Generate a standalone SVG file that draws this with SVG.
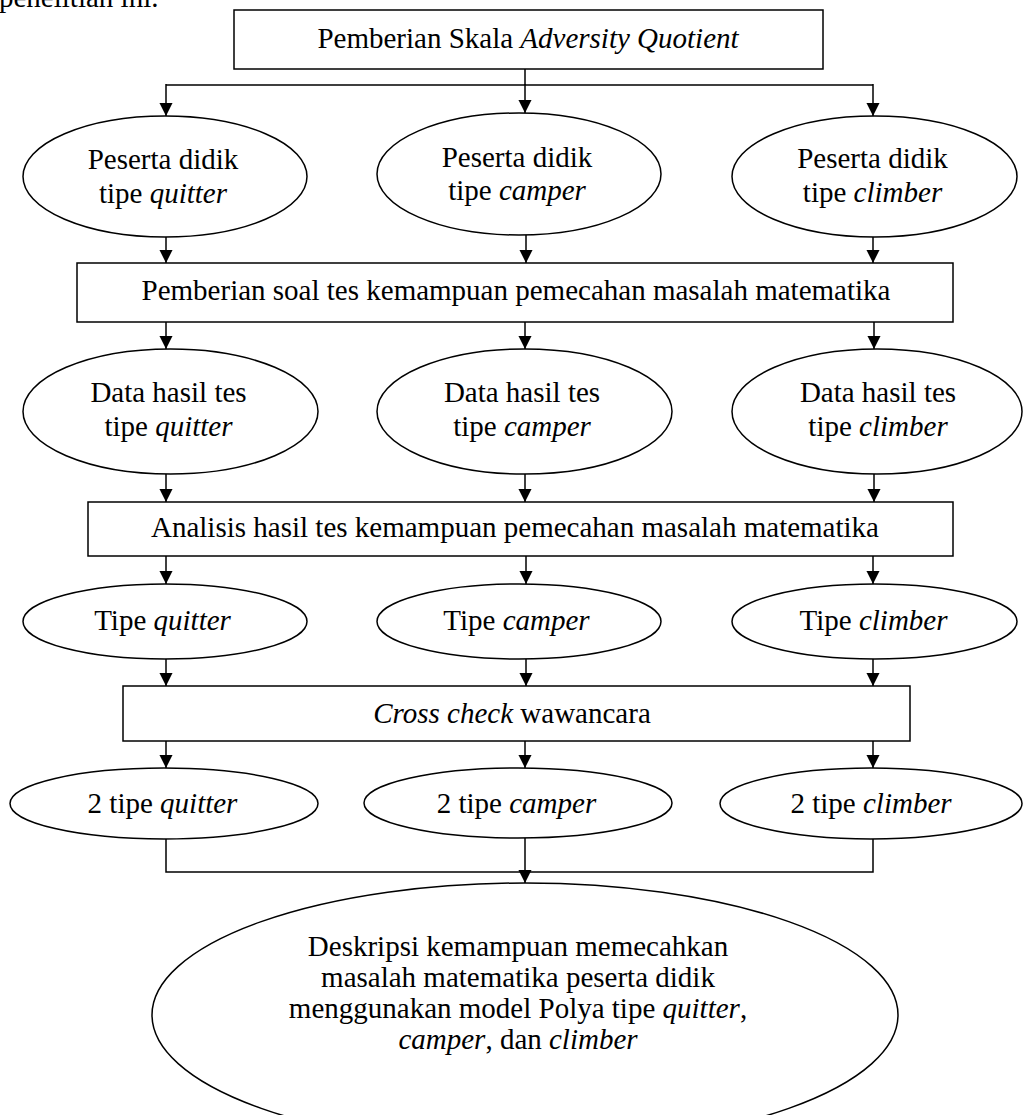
<svg xmlns="http://www.w3.org/2000/svg" width="1023" height="1115" viewBox="0 0 1023 1115">
<defs>
<style>
.n{fill:#fff;stroke:#000;stroke-width:1.5}
.t{font-family:"Liberation Serif","Times New Roman",serif;font-size:29px;fill:#000;text-anchor:middle}
.i{font-style:italic}
.c{fill:none;stroke:#000;stroke-width:1.5}
.a{marker-end:url(#ah)}
</style>
<marker id="ah" viewBox="0 0 14 15" refX="14" refY="7" markerWidth="15" markerHeight="14" markerUnits="userSpaceOnUse" orient="auto">
<path d="M0,0 L14,7 L0,14 z" fill="#000"/>
</marker>
</defs>
<rect width="1023" height="1115" fill="#fff"/>
<text class="t" x="-1" y="7" style="text-anchor:start">penelitian ini.</text>
<g id="connectors">
<path class="c" d="M525,69 V85 M166,85 H873"/>
<line class="c a" x1="166" y1="84" x2="166" y2="116"/>
<line class="c a" x1="525" y1="84" x2="525" y2="113"/>
<line class="c a" x1="873" y1="84" x2="873" y2="116"/>
<line class="c a" x1="166" y1="237" x2="166" y2="263"/>
<line class="c a" x1="526" y1="235" x2="526" y2="263"/>
<line class="c a" x1="873" y1="237" x2="873" y2="263"/>
<line class="c a" x1="166" y1="322" x2="166" y2="349"/>
<line class="c a" x1="525" y1="322" x2="525" y2="349"/>
<line class="c a" x1="874" y1="322" x2="874" y2="349"/>
<line class="c a" x1="166" y1="474" x2="166" y2="502"/>
<line class="c a" x1="525" y1="474" x2="525" y2="502"/>
<line class="c a" x1="874" y1="474" x2="874" y2="502"/>
<line class="c a" x1="166" y1="556" x2="166" y2="584"/>
<line class="c a" x1="526" y1="556" x2="526" y2="584"/>
<line class="c a" x1="873" y1="556" x2="873" y2="584"/>
<line class="c a" x1="166" y1="659" x2="166" y2="686"/>
<line class="c a" x1="526" y1="659" x2="526" y2="686"/>
<line class="c a" x1="873" y1="659" x2="873" y2="686"/>
<line class="c a" x1="166" y1="741" x2="166" y2="768"/>
<line class="c a" x1="525" y1="741" x2="525" y2="768"/>
<line class="c a" x1="873" y1="741" x2="873" y2="768"/>
<path class="c" d="M166,839 V872 H873 V839"/>
<line class="c a" x1="525" y1="838" x2="525" y2="883"/>
</g>
<g id="box1"><rect class="n" x="234" y="10" width="589" height="59"/>
<text class="t" x="528" y="48">Pemberian Skala <tspan class="i">Adversity Quotient</tspan></text></g>
<g id="e1a"><ellipse class="n" cx="165" cy="176.5" rx="142" ry="60.5"/>
<text class="t" x="163" y="169">Peserta didik</text><text class="t" x="163" y="203">tipe <tspan class="i">quitter</tspan></text></g>
<g id="e1b"><ellipse class="n" cx="519" cy="174" rx="142" ry="61"/>
<text class="t" x="517" y="167">Peserta didik</text><text class="t" x="517" y="200">tipe <tspan class="i">camper</tspan></text></g>
<g id="e1c"><ellipse class="n" cx="874.5" cy="176.5" rx="142.5" ry="60.5"/>
<text class="t" x="872.5" y="168">Peserta didik</text><text class="t" x="872.5" y="202">tipe <tspan class="i">climber</tspan></text></g>
<g id="box2"><rect class="n" x="77" y="263" width="876" height="59"/>
<text class="t" x="516" y="300">Pemberian soal tes kemampuan pemecahan masalah matematika</text></g>
<g id="e2a"><ellipse class="n" cx="170.5" cy="411.5" rx="147.5" ry="62.5"/>
<text class="t" x="168.5" y="402">Data hasil tes</text><text class="t" x="168.5" y="436">tipe <tspan class="i">quitter</tspan></text></g>
<g id="e2b"><ellipse class="n" cx="524.5" cy="411.5" rx="147.5" ry="62.5"/>
<text class="t" x="522" y="402">Data hasil tes</text><text class="t" x="522" y="436">tipe <tspan class="i">camper</tspan></text></g>
<g id="e2c"><ellipse class="n" cx="877" cy="411.5" rx="145" ry="62.5"/>
<text class="t" x="878" y="402">Data hasil tes</text><text class="t" x="878" y="436">tipe <tspan class="i">climber</tspan></text></g>
<g id="box3"><rect class="n" x="88" y="502" width="865" height="54"/>
<text class="t" x="515" y="537">Analisis hasil tes kemampuan pemecahan masalah matematika</text></g>
<g id="e3a"><ellipse class="n" cx="165" cy="621.5" rx="142" ry="37.5"/>
<text class="t" x="162.5" y="630">Tipe <tspan class="i">quitter</tspan></text></g>
<g id="e3b"><ellipse class="n" cx="519" cy="621.5" rx="142" ry="37.5"/>
<text class="t" x="516.5" y="630">Tipe <tspan class="i">camper</tspan></text></g>
<g id="e3c"><ellipse class="n" cx="874.5" cy="621.5" rx="142.5" ry="37.5"/>
<text class="t" x="873.5" y="630">Tipe <tspan class="i">climber</tspan></text></g>
<g id="box4"><rect class="n" x="123" y="686" width="787" height="55"/>
<text class="t" x="512" y="723"><tspan class="i">Cross check</tspan> wawancara</text></g>
<g id="e4a"><ellipse class="n" cx="164" cy="803.5" rx="154" ry="35.5"/>
<text class="t" x="162.5" y="813">2 tipe <tspan class="i">quitter</tspan></text></g>
<g id="e4b"><ellipse class="n" cx="518" cy="803" rx="154" ry="35"/>
<text class="t" x="516.5" y="813">2 tipe <tspan class="i">camper</tspan></text></g>
<g id="e4c"><ellipse class="n" cx="871" cy="803.5" rx="151" ry="35.5"/>
<text class="t" x="871" y="813">2 tipe <tspan class="i">climber</tspan></text></g>
<g id="final"><ellipse class="n" cx="525" cy="1015" rx="373" ry="132"/>
<text class="t" x="518" y="956">Deskripsi kemampuan memecahkan</text>
<text class="t" x="518" y="987">masalah matematika peserta didik</text>
<text class="t" x="518" y="1018">menggunakan model Polya tipe <tspan class="i">quitter</tspan>,</text>
<text class="t" x="518" y="1049"><tspan class="i">camper</tspan>, dan <tspan class="i">climber</tspan></text></g>
</svg>
